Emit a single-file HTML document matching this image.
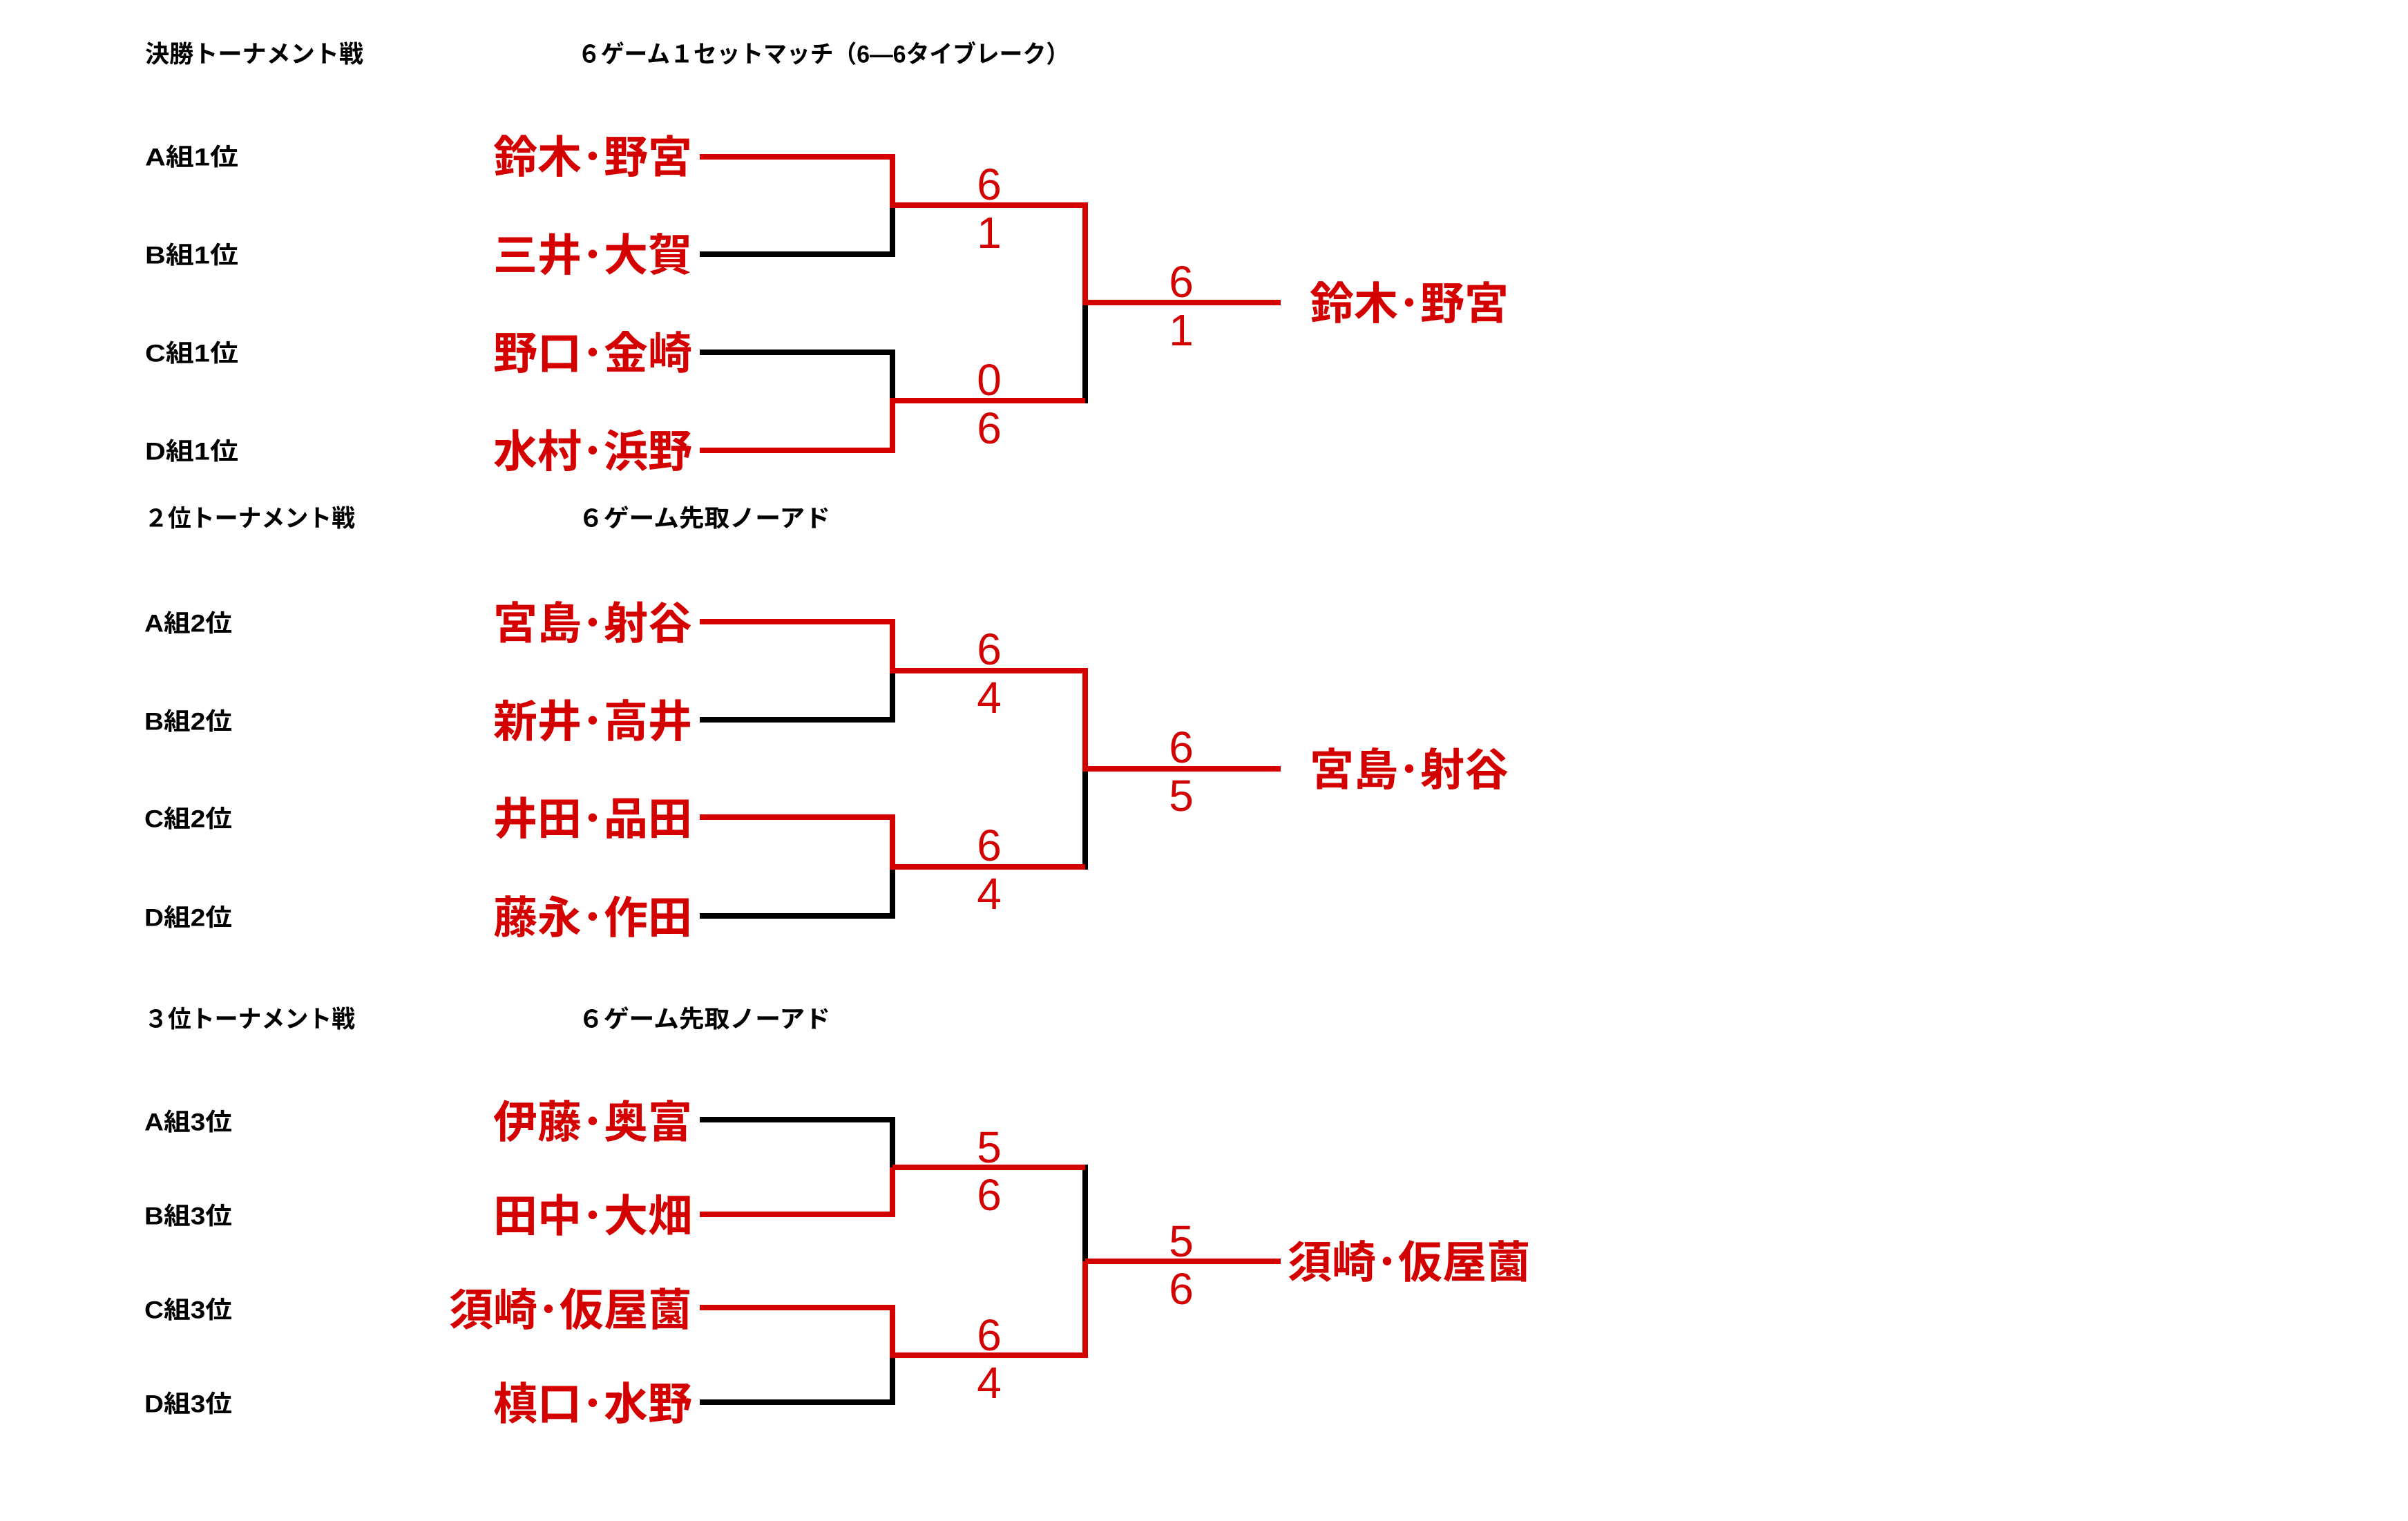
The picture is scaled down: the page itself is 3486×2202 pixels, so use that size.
<!DOCTYPE html>
<html><head><meta charset="utf-8"><style>
html,body{margin:0;padding:0;background:#fff;}
svg{display:block;}
.t{font-family:"Liberation Sans","Noto Sans CJK JP",sans-serif;font-size:35px;font-weight:bold;fill:#000;}
.n{font-family:"Liberation Sans","Noto Sans CJK JP",sans-serif;font-size:64px;font-weight:bold;fill:#d40000;}
.s{font-family:"Liberation Sans",sans-serif;font-size:64px;fill:#d40000;}
</style></head><body>
<svg width="3486" height="2202" viewBox="0 0 3486 2202" xmlns="http://www.w3.org/2000/svg">
<g dominant-baseline="central">
<text class="t" x="210" y="79" textLength="316" lengthAdjust="spacingAndGlyphs">決勝トーナメント戦</text>
<text class="t" x="836" y="79" textLength="712" lengthAdjust="spacingAndGlyphs">６ゲーム１セットマッチ（6―6タイブレーク）</text>
<text class="t" x="210" y="228" textLength="135" lengthAdjust="spacingAndGlyphs">A組1位</text>
<text class="t" x="210" y="370" textLength="135" lengthAdjust="spacingAndGlyphs">B組1位</text>
<text class="t" x="210" y="512" textLength="135" lengthAdjust="spacingAndGlyphs">C組1位</text>
<text class="t" x="210" y="654" textLength="135" lengthAdjust="spacingAndGlyphs">D組1位</text>
<text class="n" x="1002" y="228" text-anchor="end">鈴木･野宮</text>
<text class="n" x="1002" y="370" text-anchor="end">三井･大賀</text>
<text class="n" x="1002" y="512" text-anchor="end">野口･金崎</text>
<text class="n" x="1002" y="654" text-anchor="end">水村･浜野</text>
<text class="n" x="2040" y="440" text-anchor="middle">鈴木･野宮</text>
<text class="s" x="1432" y="267" text-anchor="middle">6</text>
<text class="s" x="1432" y="337" text-anchor="middle">1</text>
<text class="s" x="1432" y="550" text-anchor="middle">0</text>
<text class="s" x="1432" y="620" text-anchor="middle">6</text>
<text class="s" x="1710" y="408" text-anchor="middle">6</text>
<text class="s" x="1710" y="478" text-anchor="middle">1</text>

<text class="t" x="209" y="751" textLength="305" lengthAdjust="spacingAndGlyphs">２位トーナメント戦</text>
<text class="t" x="837" y="751" textLength="365" lengthAdjust="spacingAndGlyphs">６ゲーム先取ノーアド</text>
<text class="t" x="209" y="903" textLength="127" lengthAdjust="spacingAndGlyphs">A組2位</text>
<text class="t" x="209" y="1045" textLength="127" lengthAdjust="spacingAndGlyphs">B組2位</text>
<text class="t" x="209" y="1186" textLength="127" lengthAdjust="spacingAndGlyphs">C組2位</text>
<text class="t" x="209" y="1329" textLength="127" lengthAdjust="spacingAndGlyphs">D組2位</text>
<text class="n" x="1002" y="903" text-anchor="end">宮島･射谷</text>
<text class="n" x="1002" y="1045" text-anchor="end">新井･高井</text>
<text class="n" x="1002" y="1186" text-anchor="end">井田･品田</text>
<text class="n" x="1002" y="1329" text-anchor="end">藤永･作田</text>
<text class="n" x="2040" y="1115" text-anchor="middle">宮島･射谷</text>
<text class="s" x="1432" y="940" text-anchor="middle">6</text>
<text class="s" x="1432" y="1010" text-anchor="middle">4</text>
<text class="s" x="1432" y="1224" text-anchor="middle">6</text>
<text class="s" x="1432" y="1294" text-anchor="middle">4</text>
<text class="s" x="1710" y="1082" text-anchor="middle">6</text>
<text class="s" x="1710" y="1152" text-anchor="middle">5</text>

<text class="t" x="209" y="1476" textLength="305" lengthAdjust="spacingAndGlyphs">３位トーナメント戦</text>
<text class="t" x="837" y="1476" textLength="365" lengthAdjust="spacingAndGlyphs">６ゲーム先取ノーアド</text>
<text class="t" x="209" y="1625" textLength="127" lengthAdjust="spacingAndGlyphs">A組3位</text>
<text class="t" x="209" y="1761" textLength="127" lengthAdjust="spacingAndGlyphs">B組3位</text>
<text class="t" x="209" y="1897" textLength="127" lengthAdjust="spacingAndGlyphs">C組3位</text>
<text class="t" x="209" y="2033" textLength="127" lengthAdjust="spacingAndGlyphs">D組3位</text>
<text class="n" x="1002" y="1625" text-anchor="end">伊藤･奥富</text>
<text class="n" x="1002" y="1761" text-anchor="end">田中･大畑</text>
<text class="n" x="1002" y="1897" text-anchor="end">須崎･仮屋薗</text>
<text class="n" x="1002" y="2033" text-anchor="end">槙口･水野</text>
<text class="n" x="2040" y="1828" text-anchor="middle">須崎･仮屋薗</text>
<text class="s" x="1432" y="1661" text-anchor="middle">5</text>
<text class="s" x="1432" y="1730" text-anchor="middle">6</text>
<text class="s" x="1432" y="1933" text-anchor="middle">6</text>
<text class="s" x="1432" y="2002" text-anchor="middle">4</text>
<text class="s" x="1710" y="1797" text-anchor="middle">5</text>
<text class="s" x="1710" y="1866" text-anchor="middle">6</text>
</g>

<g stroke-width="8" stroke-linecap="square" fill="none">
<g stroke="#000">
<line x1="1017" y1="368" x2="1292" y2="368"/>
<line x1="1292" y1="297" x2="1292" y2="368"/>
<line x1="1017" y1="510" x2="1292" y2="510"/>
<line x1="1292" y1="510" x2="1292" y2="580"/>
<line x1="1571" y1="438" x2="1571" y2="580"/>
</g>
<g stroke="#d40000">
<line x1="1017" y1="227" x2="1292" y2="227"/>
<line x1="1292" y1="227" x2="1292" y2="297"/>
<line x1="1017" y1="652" x2="1292" y2="652"/>
<line x1="1292" y1="580" x2="1292" y2="652"/>
<line x1="1292" y1="297" x2="1571" y2="297"/>
<line x1="1292" y1="580" x2="1567" y2="580"/>
<line x1="1571" y1="297" x2="1571" y2="438"/>
<line x1="1575" y1="438" x2="1850" y2="438"/>
</g>
<g stroke="#000">
<line x1="1017" y1="1042" x2="1292" y2="1042"/>
<line x1="1292" y1="971" x2="1292" y2="1042"/>
<line x1="1017" y1="1326" x2="1292" y2="1326"/>
<line x1="1292" y1="1255" x2="1292" y2="1326"/>
<line x1="1571" y1="1113" x2="1571" y2="1255"/>
</g>
<g stroke="#d40000">
<line x1="1017" y1="900" x2="1292" y2="900"/>
<line x1="1292" y1="900" x2="1292" y2="971"/>
<line x1="1017" y1="1183" x2="1292" y2="1183"/>
<line x1="1292" y1="1183" x2="1292" y2="1255"/>
<line x1="1296" y1="971" x2="1571" y2="971"/>
<line x1="1296" y1="1255" x2="1567" y2="1255"/>
<line x1="1571" y1="971" x2="1571" y2="1113"/>
<line x1="1575" y1="1113" x2="1850" y2="1113"/>
</g>
<g stroke="#000">
<line x1="1017" y1="1621" x2="1292" y2="1621"/>
<line x1="1292" y1="1621" x2="1292" y2="1690"/>
<line x1="1017" y1="2030" x2="1292" y2="2030"/>
<line x1="1292" y1="1962" x2="1292" y2="2030"/>
<line x1="1571" y1="1690" x2="1571" y2="1826"/>
</g>
<g stroke="#d40000">
<line x1="1017" y1="1758" x2="1292" y2="1758"/>
<line x1="1292" y1="1694" x2="1292" y2="1758"/>
<line x1="1017" y1="1893" x2="1292" y2="1893"/>
<line x1="1292" y1="1893" x2="1292" y2="1962"/>
<line x1="1296" y1="1690" x2="1567" y2="1690"/>
<line x1="1296" y1="1962" x2="1571" y2="1962"/>
<line x1="1571" y1="1830" x2="1571" y2="1962"/>
<line x1="1575" y1="1826" x2="1850" y2="1826"/>
</g>
</g>
</svg>
</body></html>
